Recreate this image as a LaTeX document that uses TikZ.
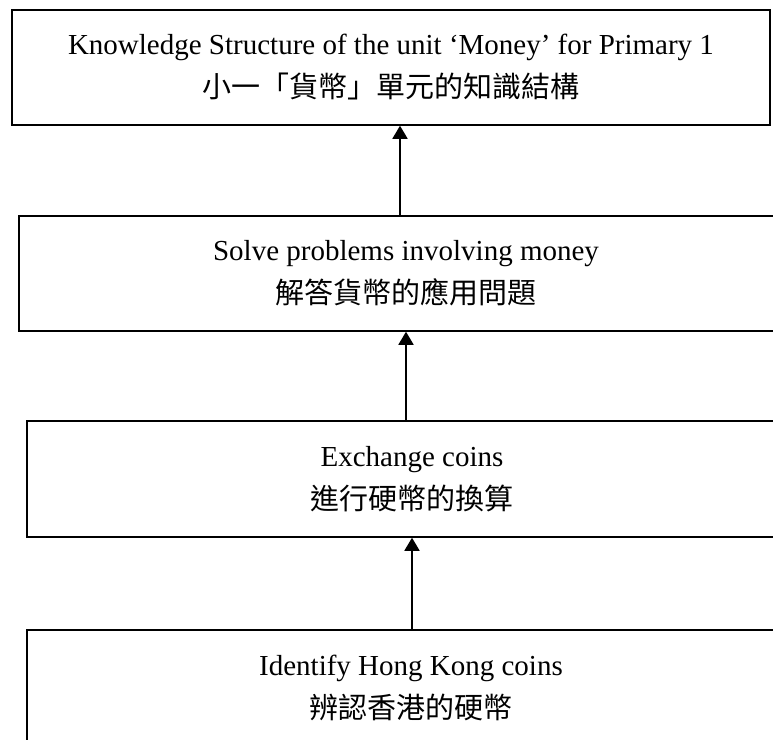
\documentclass[tikz,border=0pt]{standalone}
\usepackage{fontspec}
\setmainfont{Liberation Serif}
\newfontfamily\cjk{Noto Sans CJK TC}
\usetikzlibrary{arrows.meta}
\tikzset{
  box/.style={draw=black, line width=1.5pt, inner sep=0pt, align=center,
    font=\fontsize{29}{43}\selectfont, minimum height=115pt},
  arr/.style={line width=1.8pt, -{Triangle[length=13pt,width=15pt]}}
}
\begin{document}
\begin{tikzpicture}[x=1pt,y=-1pt]
\useasboundingbox (0,0) rectangle (773,739);
\node[box, minimum width=758pt] (b1) at (391,67.5)
  {Knowledge Structure of the unit ‘Money’ for Primary 1\\{\cjk 小一「貨幣」單元的知識結構}};
\node[box, minimum width=774pt] (b2) at (406,273.5)
  {Solve problems involving money\\{\cjk 解答貨幣的應用問題}};
\node[box, minimum width=770pt, minimum height=116pt] (b3) at (412,479)
  {Exchange coins\\{\cjk 進行硬幣的換算}};
\node[box, minimum width=768pt, minimum height=116pt] (b4) at (411,688)
  {Identify Hong Kong coins\\{\cjk 辨認香港的硬幣}};
\draw[arr] ([xshift=-6pt]b2.north) -- ([xshift=-6pt]b2.north |- b1.south);
\draw[arr] ([xshift=-6pt]b3.north) -- (b2.south);
\draw[arr] (b4.north -| b3.south) -- (b3.south);
\end{tikzpicture}
\end{document}
